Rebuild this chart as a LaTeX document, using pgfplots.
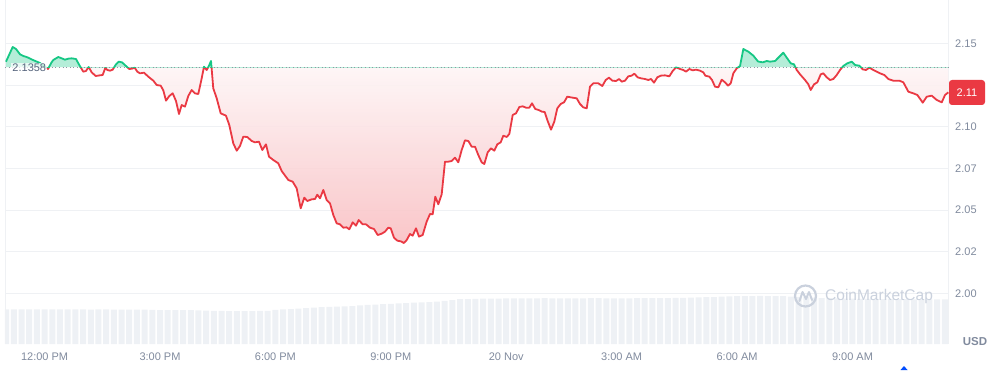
\documentclass[border=0pt]{standalone}
\usepackage{fontspec}
\setmainfont{Liberation Sans}
\usepackage{pgfplots}
\pgfplotsset{compat=1.18}
\usepackage{pgfplotstable}
\usetikzlibrary{calc}
\definecolor{cmcred}{HTML}{EA3943}
\definecolor{cmcgreen}{HTML}{16C784}
\definecolor{gridc}{HTML}{EFF1F4}
\definecolor{tickc}{HTML}{808A9D}
\definecolor{labc}{HTML}{58667E}
\definecolor{volc}{HTML}{EEF1F5}
\definecolor{wm}{HTML}{CAD1DD}
\definecolor{basec}{HTML}{8F96A3}

\pgfplotstableread{
h p
-1.003 2.1390
-0.829 2.1478
-0.743 2.1466
-0.639 2.1434
-0.554 2.1424
-0.465 2.1418
-0.301 2.1400
-0.120 2.1382
-0.016 2.1364
0.088 2.1346
0.179 2.1385
0.226 2.1400
0.356 2.1418
0.445 2.1410
0.530 2.1402
0.616 2.1408
0.704 2.1410
0.816 2.1406
0.902 2.1370
1.006 2.1330
1.076 2.1334
1.146 2.1358
1.224 2.1326
1.328 2.1304
1.440 2.1308
1.510 2.1310
1.578 2.1352
1.630 2.1340
1.700 2.1336
1.770 2.1342
1.856 2.1374
1.926 2.1390
2.012 2.1386
2.116 2.1364
2.202 2.1346
2.272 2.1348
2.342 2.1354
2.410 2.1330
2.480 2.1320
2.584 2.1324
2.696 2.1300
2.826 2.1276
2.914 2.1250
3.018 2.1246
3.086 2.1218
3.156 2.1156
3.242 2.1184
3.330 2.1200
3.416 2.1154
3.494 2.1076
3.564 2.1130
3.650 2.1120
3.735 2.1184
3.824 2.1220
3.910 2.1200
3.995 2.1196
4.084 2.1290
4.144 2.1360
4.214 2.1340
4.274 2.1366
4.326 2.1394
4.385 2.1230
4.474 2.1170
4.578 2.1080
4.715 2.1066
4.801 2.1010
4.905 2.0900
4.994 2.0856
5.079 2.0884
5.165 2.0940
5.269 2.0938
5.384 2.0914
5.469 2.0906
5.573 2.0910
5.659 2.0860
5.755 2.0894
5.833 2.0820
5.945 2.0800
6.075 2.0780
6.163 2.0734
6.335 2.0680
6.449 2.0670
6.553 2.0630
6.657 2.0510
6.751 2.0574
6.829 2.0554
6.943 2.0564
7.029 2.0566
7.089 2.0592
7.159 2.0570
7.245 2.0620
7.333 2.0560
7.419 2.0540
7.505 2.0470
7.593 2.0420
7.679 2.0414
7.765 2.0394
7.853 2.0396
7.920 2.0384
8.009 2.0426
8.095 2.0406
8.165 2.0440
8.269 2.0414
8.355 2.0414
8.459 2.0394
8.563 2.0386
8.659 2.0350
8.763 2.0358
8.848 2.0370
8.934 2.0394
8.997 2.0390
9.082 2.0334
9.168 2.0316
9.257 2.0312
9.342 2.0302
9.413 2.0320
9.498 2.0356
9.568 2.0346
9.654 2.0390
9.732 2.0340
9.828 2.0350
9.932 2.0430
10.018 2.0476
10.088 2.0474
10.156 2.0580
10.234 2.0534
10.322 2.0594
10.408 2.0790
10.494 2.0790
10.582 2.0794
10.668 2.0814
10.754 2.0786
10.842 2.0860
10.928 2.0918
11.014 2.0914
11.102 2.0880
11.188 2.0880
11.274 2.0830
11.362 2.0786
11.430 2.0776
11.518 2.0846
11.604 2.0870
11.690 2.0856
11.768 2.0894
11.856 2.0906
11.924 2.0946
12.012 2.0938
12.080 2.0956
12.168 2.1070
12.254 2.1080
12.340 2.1118
12.428 2.1122
12.514 2.1114
12.600 2.1114
12.670 2.1140
12.755 2.1106
12.844 2.1100
12.930 2.1090
13.000 2.1088
13.067 2.1040
13.164 2.0982
13.249 2.1030
13.327 2.1110
13.416 2.1136
13.502 2.1146
13.587 2.1180
13.676 2.1176
13.832 2.1170
13.917 2.1136
14.003 2.1116
14.092 2.1110
14.177 2.1240
14.263 2.1260
14.393 2.1260
14.497 2.1244
14.586 2.1280
14.671 2.1294
14.757 2.1276
14.853 2.1274
14.931 2.1286
15.002 2.1270
15.087 2.1276
15.173 2.1302
15.261 2.1306
15.329 2.1318
15.417 2.1296
15.503 2.1290
15.607 2.1286
15.693 2.1280
15.763 2.1286
15.841 2.1264
15.927 2.1296
16.015 2.1306
16.127 2.1308
16.239 2.1302
16.327 2.1334
16.413 2.1356
16.517 2.1346
16.603 2.1340
16.673 2.1330
16.759 2.1346
16.847 2.1338
16.933 2.1342
17.037 2.1336
17.123 2.1326
17.175 2.1306
17.279 2.1300
17.349 2.1280
17.427 2.1240
17.513 2.1236
17.601 2.1282
17.687 2.1266
17.765 2.1246
17.835 2.1260
17.903 2.1320
17.991 2.1350
18.077 2.1364
18.163 2.1466
18.293 2.1450
18.423 2.1426
18.545 2.1391
18.667 2.1386
18.771 2.1394
18.857 2.1390
18.987 2.1394
19.098 2.1420
19.202 2.1444
19.291 2.1414
19.395 2.1380
19.481 2.1374
19.551 2.1340
19.637 2.1314
19.767 2.1280
19.852 2.1254
19.915 2.1220
20.001 2.1254
20.086 2.1266
20.175 2.1314
20.242 2.1320
20.331 2.1296
20.417 2.1280
20.502 2.1286
20.591 2.1310
20.676 2.1340
20.762 2.1364
20.866 2.1380
20.981 2.1390
21.067 2.1370
21.178 2.1366
21.267 2.1344
21.352 2.1340
21.438 2.1354
21.542 2.1340
21.631 2.1330
21.716 2.1320
21.828 2.1310
21.932 2.1286
22.062 2.1276
22.218 2.1276
22.322 2.1266
22.452 2.1210
22.582 2.1200
22.686 2.1190
22.827 2.1144
22.931 2.1180
23.060 2.1186
23.190 2.1160
23.320 2.1146
23.406 2.1190
23.492 2.1206
}\price

\pgfplotstableread{
h v
-1.0 34.7
-0.8 34.7
-0.6 34.6
-0.4 34.7
-0.2 34.7
0.0 34.6
0.2 34.6
0.4 34.7
0.6 34.7
0.8 34.6
1.0 34.6
1.2 34.5
1.4 34.6
1.6 34.6
1.8 34.5
2.0 34.5
2.2 34.5
2.4 34.4
2.6 34.3
2.8 34.2
3.0 34.0
3.2 34.0
3.4 34.0
3.6 33.9
3.8 33.8
4.0 33.6
4.2 33.4
4.4 33.2
4.6 33.1
4.8 33.0
5.0 33.0
5.2 33.0
5.4 33.0
5.6 33.1
5.8 33.2
6.0 34.2
6.2 34.7
6.4 34.9
6.6 35.3
6.8 35.8
7.0 36.3
7.2 36.8
7.4 37.1
7.6 37.4
7.8 37.6
8.0 38.0
8.2 38.6
8.4 39.2
8.6 39.5
8.8 39.8
9.0 40.2
9.2 40.6
9.4 41.0
9.6 41.3
9.8 41.6
10.0 42.0
10.2 42.5
10.4 43.2
10.6 44.0
10.8 44.8
11.0 45.0
11.2 45.2
11.4 45.3
11.6 45.4
11.8 45.5
12.0 45.7
12.2 45.7
12.4 45.6
12.6 45.6
12.8 45.7
13.0 45.8
13.2 45.7
13.4 45.6
13.6 45.6
13.8 45.7
14.0 45.7
14.2 45.8
14.4 45.8
14.6 45.7
14.8 45.6
15.0 45.6
15.2 45.7
15.4 45.8
15.6 45.8
15.8 45.9
16.0 46.0
16.2 46.0
16.4 46.1
16.6 46.2
16.8 46.4
17.0 46.6
17.2 46.8
17.4 47.0
17.6 47.3
17.8 47.6
18.0 47.8
18.2 48.0
18.4 48.0
18.6 48.1
18.8 48.0
19.0 48.0
19.2 47.8
19.4 47.5
19.6 47.2
19.8 46.8
20.0 46.4
20.2 46.0
20.4 45.8
20.6 45.6
20.8 45.4
21.0 45.3
21.2 45.2
21.4 45.1
21.6 45.0
21.8 45.0
22.0 44.9
22.2 44.8
22.4 44.8
22.6 44.7
22.8 44.7
23.0 44.7
23.2 44.6
23.4 44.6
}\vol

\begin{document}
\begin{tikzpicture}[x=1pt,y=1pt]
\begin{axis}[name=P, scale only axis,
  width=944pt, height=344pt,
  xmin=-1.029, xmax=23.509, ymin=1.9696, ymax=2.176,
  axis line style={draw=none},
  ymajorgrids, grid style={gridc, line width=1pt},
  major tick length=0pt,
  ytick={2.000,2.025,2.050,2.075,2.100,2.125,2.150},
  yticklabels={2.00,2.02,2.05,2.07,2.10,2.12,2.15},
  yticklabel pos=right,
  yticklabel style={anchor=west, inner sep=0pt, xshift=6pt},
  xtick={0,3,6,9,12,15,18,21},
  xticklabels={12:00 PM,3:00 PM,6:00 PM,9:00 PM,20 Nov,3:00 AM,6:00 AM,9:00 AM},
  xticklabel style={anchor=north, inner sep=0pt, yshift=-9pt},
  tick label style={font=\fontsize{11}{13}\selectfont, text=tickc},
  clip=true]
\coordinate (SW) at (rel axis cs:0,0);
% volume (relative heights; 1 unit = 1/344 of the plot height)
\addplot[ybar, bar width=6pt, fill=volc, draw=none,
  y filter/.expression={1.9696+0.0006*y}] table[x=h,y=v] {\vol};
\draw[gridc, line width=1pt] (axis cs:-1.01,1.9696) -- (axis cs:-1.01,2.176);
\draw[gridc, line width=1pt] (axis cs:23.495,1.9696) -- (axis cs:23.495,2.176);
% red fill below baseline
\begin{scope}
\clip (axis cs:-1.1,2.1358) rectangle (axis cs:23.6,1.96);
\addplot[draw=none, fill opacity=0.9, top color=cmcred!2!white, middle color=cmcred!9!white, bottom color=cmcred!32!white] table[x=h,y=p] {\price} -- (axis cs:23.492,2.1358) -- (axis cs:-1.003,2.1358) -- cycle;
\end{scope}
% green fill above baseline
\begin{scope}
\clip (axis cs:-1.1,2.1358) rectangle (axis cs:23.6,2.18);
\addplot[draw=none, fill=cmcgreen!32!white] table[x=h,y=p] {\price} -- (axis cs:23.492,2.1358) -- (axis cs:-1.003,2.1358) -- cycle;
\end{scope}
% baseline
\draw[basec, line width=1pt, dash pattern=on 1pt off 2.6pt] (axis cs:-1.029,2.1358) -- (axis cs:23.509,2.1358);
% lines
\begin{scope}
\clip (axis cs:-1.1,2.1358) rectangle (axis cs:23.6,1.96);
\addplot[cmcred, line width=1.8pt, line join=round] table[x=h,y=p] {\price};
\end{scope}
\begin{scope}
\clip (axis cs:-1.1,2.1358) rectangle (axis cs:23.6,2.18);
\addplot[cmcgreen, line width=1.8pt, line join=round] table[x=h,y=p] {\price};
\end{scope}
\node[anchor=west, fill=white, fill opacity=0.7, text opacity=1, text=labc, inner sep=1pt,
  font=\fontsize{11}{13}\selectfont] at (axis cs:-0.866,2.1352) {2.1358};
\end{axis}

% price badge
\node[fill=cmcred, rounded corners=3pt, minimum width=36pt, minimum height=25pt, inner sep=0pt,
  text=white, font=\fontsize{11}{13}\selectfont] at ($(SW)+(962,251.5)$) {2.11};
% currency
\node[text=tickc, font=\bfseries\fontsize{11.5}{13}\selectfont, inner sep=0pt] at ($(SW)+(970,2.3)$) {USD};
% watermark
\draw[wm, line width=2.2pt] ($(SW)+(800.5,48)$) circle (10.5);
\draw[wm, line width=2pt, line join=round, line cap=round] ($(SW)+(794.5,43)$) -- ++(3,9) -- ++(3.5,-7) -- ++(3,7) -- ++(3,-8);
\node[anchor=west, text=wm, font=\fontsize{15.5}{17}\selectfont, inner sep=0pt] at ($(SW)+(820,48)$) {CoinMarketCap};
% small marker at bottom
\fill[blue!70!cyan] ($(SW)+(895.5,-26)$) -- ++(7,0) -- ++(-3.5,4) -- cycle;
\pgfresetboundingbox
\path[use as bounding box] ($(SW)+(-5,-26)$) rectangle ($(SW)+(999,344)$);
\end{tikzpicture}
\end{document}
